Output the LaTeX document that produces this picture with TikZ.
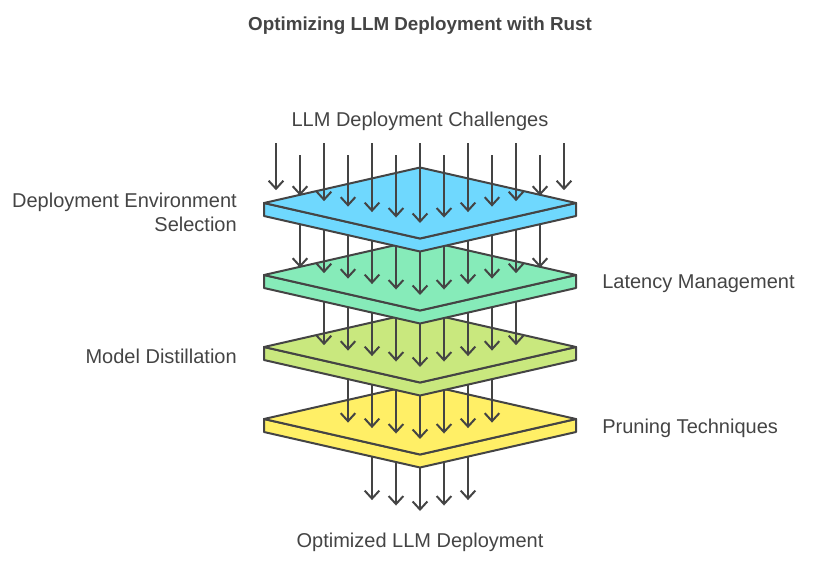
\documentclass[tikz,border=0pt]{standalone}
\usepackage{fontspec}
\setmainfont{Liberation Sans}
\usetikzlibrary{arrows.meta}
\definecolor{linie}{HTML}{444444}
\definecolor{blau}{HTML}{6FD8FE}
\definecolor{gruen}{HTML}{86EBB9}
\definecolor{hellgruen}{HTML}{C9E87E}
\definecolor{gelb}{HTML}{FFEF66}
\tikzset{
  platte/.style={draw=linie, line width=1.5pt, line join=round},
  pfeil/.style={draw=linie, line width=1.5pt, -{Straight Barb[length=6pt,width=11pt]}},
  beschriftung/.style={text=linie, inner sep=0pt, font=\fontsize{15}{18}\selectfont},
  titel/.style={text=linie, inner sep=0pt, font=\fontsize{14.1}{17}\selectfont\bfseries},
}
% Platte: #1 y der linken Ecke, #2 Farbe
\newcommand\platte[2]{%
  \filldraw [platte, fill=#2] (264,#1) -- (264,#1+13) -- (420,#1+48.5) -- (576,#1+13) -- (576,#1) -- (420,#1+35.5) -- cycle;
  \filldraw [platte, fill=#2] (264,#1) -- (420,#1-35.5) -- (576,#1) -- (420,#1+35.5) -- cycle;
}
% Pfeile: #1 x-Liste, #2 Start, #3 Spitze in der Mitte
\newcommand\pfeile[3]{%
  \foreach \x in {#1} {
    \pgfmathsetmacro\spitze{#3-abs(\x-420)*0.2276}
    \draw [pfeil] (\x,#2) -- (\x,\spitze);
  }
}
\begin{document}
\begin{tikzpicture}[x=0.75pt, y=-0.75pt]
            \useasboundingbox (0,0) rectangle (816,564);
            % Ausgang
            \pfeile{372,396,...,468}{419}{511}
            % Platten von unten nach oben
            \platte{419}{gelb}
            \pfeile{348,372,...,492}{347}{439}
            \platte{347}{hellgruen}
            \pfeile{324,348,...,516}{275}{367}
            \platte{275}{gruen}
            \pfeile{300,324,...,540}{203}{295}
            \platte{203}{blau}
            % Eingang
            \foreach \x [count=\i] in {276,300,...,564} {
              \pgfmathsetmacro\start{143+12*(1-mod(\i,2))}
              \pgfmathsetmacro\spitze{223-abs(\x-420)*0.2276}
              \draw [pfeil] (\x,\start) -- (\x,\spitze);
            }
            % Texte
            \node [titel] (ueberschrift) at (420,26) {Optimizing LLM Deployment with Rust};
            \node [beschriftung] (eingang) at (420,121) {LLM Deployment Challenges};
            \node [beschriftung] (ausgang) at (420,542) {Optimized LLM Deployment};
            \node [beschriftung, anchor=east, align=right] (umgebung) at (237,212) {Deployment Environment\\Selection};
            \node [beschriftung, anchor=west] (latenz) at (602,284) {Latency Management};
            \node [beschriftung, anchor=east] (destillation) at (237,356) {Model Distillation};
            \node [beschriftung, anchor=west] (pruning) at (602,428) {Pruning Techniques};
        \end{tikzpicture}
\end{document}
